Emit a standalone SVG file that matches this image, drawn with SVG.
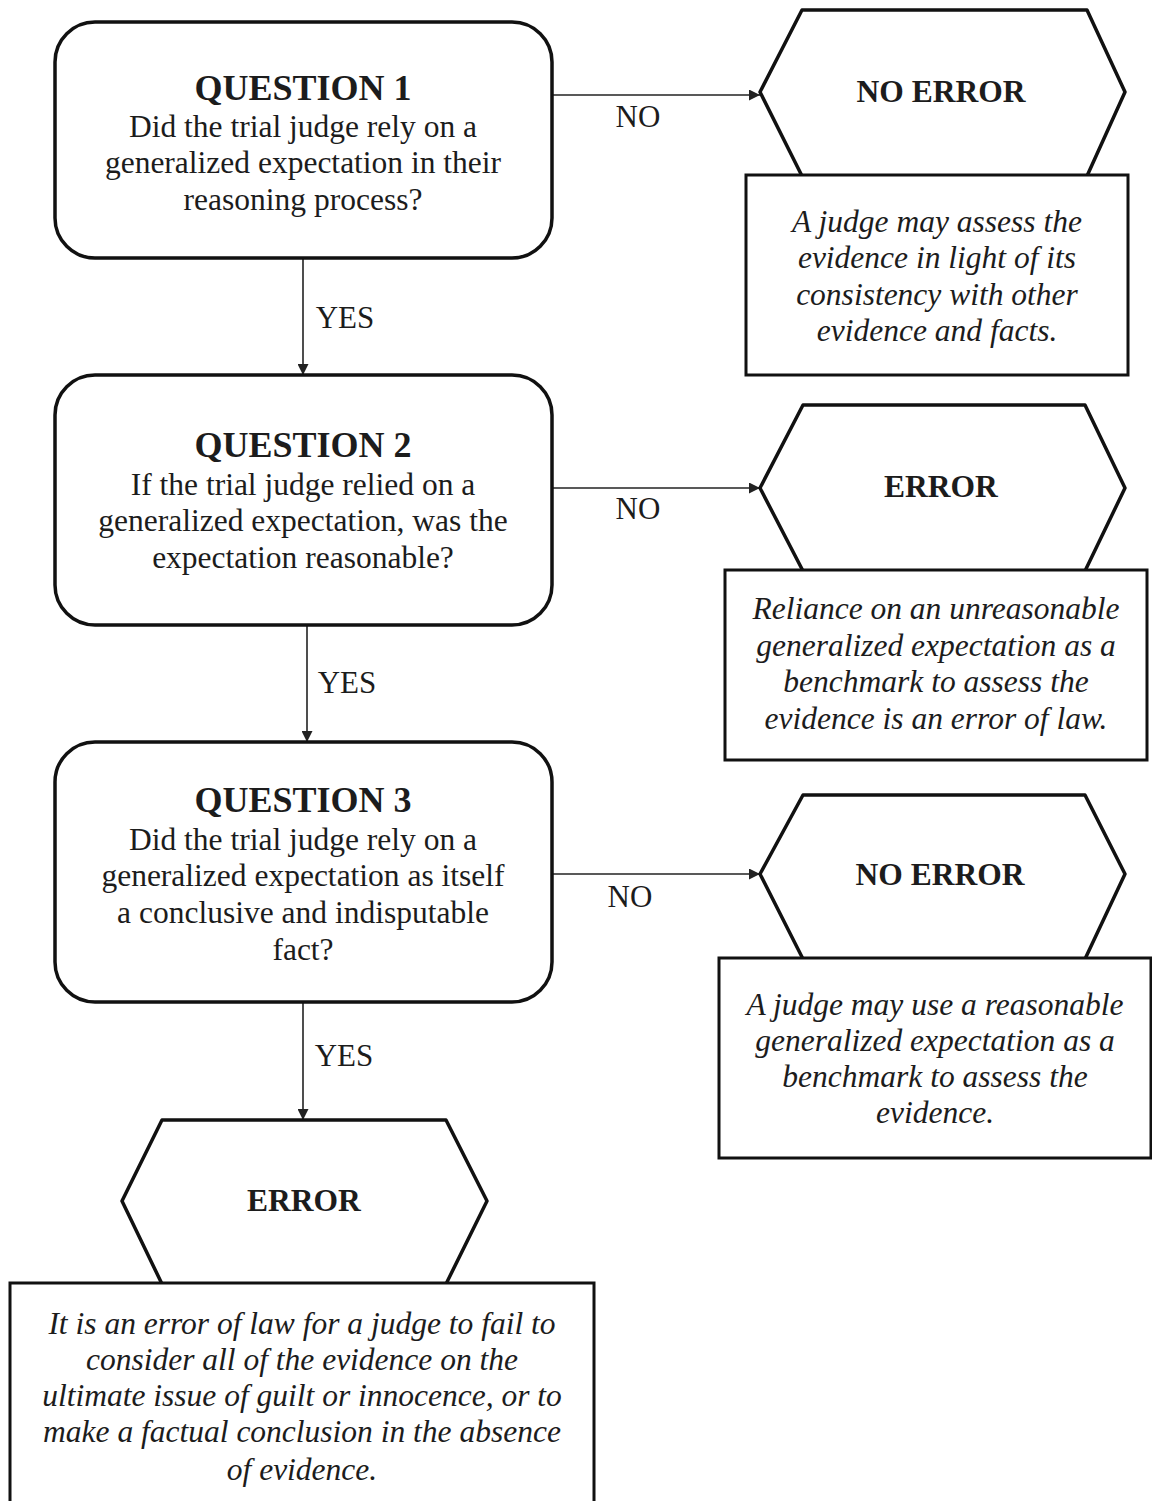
<svg xmlns="http://www.w3.org/2000/svg" width="1152" height="1501" viewBox="0 0 1152 1501">
<style>
.shape{fill:#fff;stroke:#111;stroke-width:3.5;stroke-linejoin:round}
.box{fill:#fff;stroke:#111;stroke-width:3}
.conn{stroke:#222;stroke-width:1.6;fill:none}
text{font-family:"Liberation Serif","Times New Roman",serif;fill:#1c1c1c;text-anchor:middle}
.h{font-size:36px;font-weight:bold}
.t{font-size:31.5px;font-weight:bold}
.b{font-size:31.5px}
.i{font-size:31.5px;font-style:italic}
.lbl{font-size:31px}
</style>
<defs>
<marker id="arr" viewBox="0 0 10 10" refX="10" refY="5" markerWidth="11" markerHeight="11" markerUnits="userSpaceOnUse" orient="auto">
<path d="M0,0 L10,5 L0,10 z" fill="#222"/>
</marker>
</defs>
<rect width="1152" height="1501" fill="#fff"/>
<g id="connectors">
<line class="conn" x1="552" y1="95" x2="760" y2="95" marker-end="url(#arr)"/>
<text class="lbl" x="638" y="127">NO</text>
<line class="conn" x1="303" y1="258" x2="303" y2="375" marker-end="url(#arr)"/>
<text class="lbl" x="345" y="328">YES</text>
<line class="conn" x1="552" y1="488" x2="760" y2="488" marker-end="url(#arr)"/>
<text class="lbl" x="638" y="519">NO</text>
<line class="conn" x1="307" y1="625" x2="307" y2="742" marker-end="url(#arr)"/>
<text class="lbl" x="347" y="693">YES</text>
<line class="conn" x1="552" y1="874" x2="760" y2="874" marker-end="url(#arr)"/>
<text class="lbl" x="630" y="907">NO</text>
<line class="conn" x1="303" y1="1002" x2="303" y2="1120" marker-end="url(#arr)"/>
<text class="lbl" x="344" y="1066">YES</text>
</g>
<g id="q1">
<rect class="shape" x="55" y="22" width="497" height="236" rx="40"/>
<text class="h" x="303" y="100">QUESTION 1</text>
<text class="b" x="303" y="137">Did the trial judge rely on a</text>
<text class="b" x="303" y="173">generalized expectation in their</text>
<text class="b" x="303" y="210">reasoning process?</text>
</g>
<g id="noerror1">
<polygon class="shape" points="802,10 1087,10 1125,92 1087,176 802,176 760,92"/>
<text class="t" x="941" y="102">NO ERROR</text>
</g>
<g id="note1">
<rect class="box" x="746" y="175" width="382" height="200"/>
<text class="i" x="937" y="232">A judge may assess the</text>
<text class="i" x="937" y="268">evidence in light of its</text>
<text class="i" x="937" y="305">consistency with other</text>
<text class="i" x="937" y="341">evidence and facts.</text>
</g>
<g id="q2">
<rect class="shape" x="55" y="375" width="497" height="250" rx="40"/>
<text class="h" x="303" y="457">QUESTION 2</text>
<text class="b" x="303" y="495">If the trial judge relied on a</text>
<text class="b" x="303" y="531">generalized expectation, was the</text>
<text class="b" x="303" y="568">expectation reasonable?</text>
</g>
<g id="error2">
<polygon class="shape" points="803,405 1085,405 1125,488 1085,571 803,571 760,488"/>
<text class="t" x="941" y="497">ERROR</text>
</g>
<g id="note2">
<rect class="box" x="725" y="570" width="422" height="190"/>
<text class="i" x="936" y="619">Reliance on an unreasonable</text>
<text class="i" x="936" y="656">generalized expectation as a</text>
<text class="i" x="936" y="692">benchmark to assess the</text>
<text class="i" x="936" y="729">evidence is an error of law.</text>
</g>
<g id="q3">
<rect class="shape" x="55" y="742" width="497" height="260" rx="40"/>
<text class="h" x="303" y="812">QUESTION 3</text>
<text class="b" x="303" y="850">Did the trial judge rely on a</text>
<text class="b" x="303" y="886">generalized expectation as itself</text>
<text class="b" x="303" y="923">a conclusive and indisputable</text>
<text class="b" x="303" y="960">fact?</text>
</g>
<g id="noerror3">
<polygon class="shape" points="803,795 1085,795 1125,874 1085,959 803,959 760,874"/>
<text class="t" x="940" y="885">NO ERROR</text>
</g>
<g id="note3">
<rect class="box" x="719" y="958" width="432" height="200"/>
<text class="i" x="935" y="1015">A judge may use a reasonable</text>
<text class="i" x="935" y="1051">generalized expectation as a</text>
<text class="i" x="935" y="1087">benchmark to assess the</text>
<text class="i" x="935" y="1123">evidence.</text>
</g>
<g id="error4">
<polygon class="shape" points="162,1120 446,1120 487,1201 446,1284 162,1284 122,1201"/>
<text class="t" x="304" y="1211">ERROR</text>
</g>
<g id="note4">
<rect class="box" x="10" y="1283" width="584" height="240"/>
<text class="i" x="302" y="1334">It is an error of law for a judge to fail to</text>
<text class="i" x="302" y="1370">consider all of the evidence on the</text>
<text class="i" x="302" y="1406">ultimate issue of guilt or innocence, or to</text>
<text class="i" x="302" y="1442">make a factual conclusion in the absence</text>
<text class="i" x="302" y="1480">of evidence.</text>
</g>
</svg>
